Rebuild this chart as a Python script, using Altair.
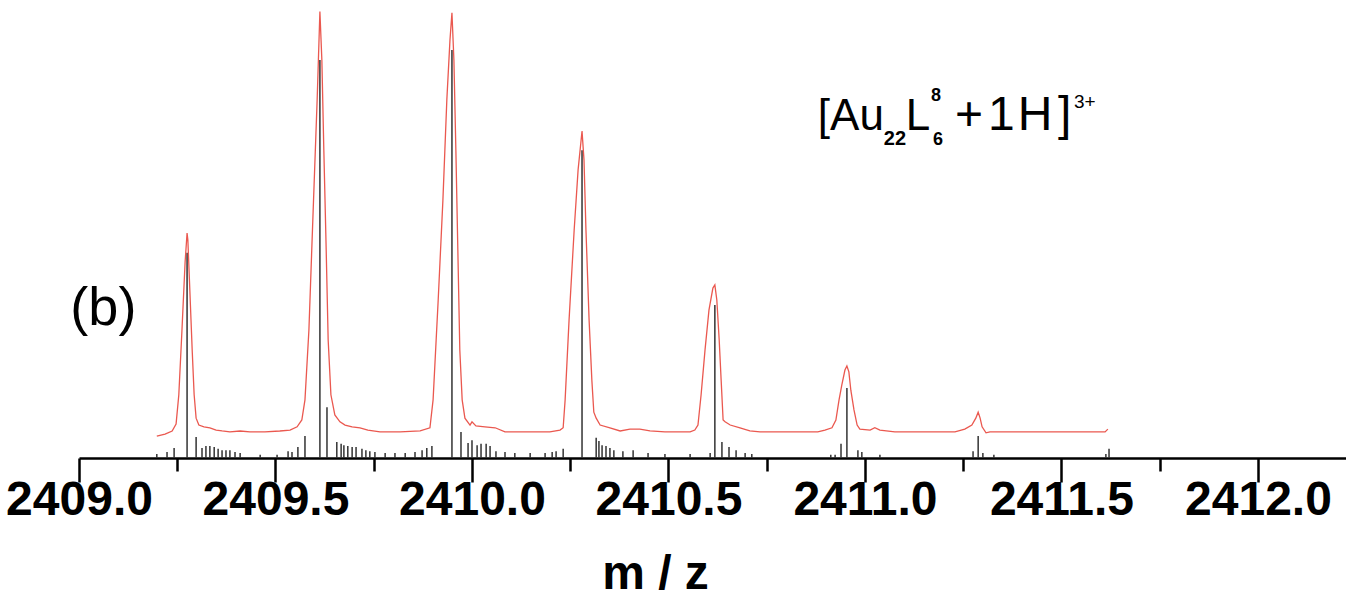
import altair as alt
import pandas as pd

# ---- measured profile (red) : m/z and relative intensity ----
red_mz = [2409.198, 2409.219, 2409.237, 2409.247, 2409.254, 2409.262, 2409.270, 2409.275, 2409.277,
          2409.282, 2409.288, 2409.293, 2409.298, 2409.305, 2409.318, 2409.333, 2409.349, 2409.364,
          2409.384, 2409.410, 2409.435, 2409.473, 2409.511, 2409.537, 2409.555, 2409.567, 2409.575,
          2409.585, 2409.595, 2409.606, 2409.613, 2409.618, 2409.623, 2409.629, 2409.634, 2409.641,
          2409.651, 2409.664, 2409.677, 2409.695, 2409.715, 2409.735, 2409.766, 2409.817, 2409.868,
          2409.893, 2409.901, 2409.914, 2409.926, 2409.936, 2409.944, 2409.949, 2409.954, 2409.959,
          2409.964, 2409.969, 2409.975, 2409.982, 2409.995, 2410.000, 2410.010, 2410.033, 2410.059,
          2410.084, 2410.122, 2410.198, 2410.224, 2410.232, 2410.237, 2410.247, 2410.260, 2410.270,
          2410.280, 2410.285, 2410.290, 2410.298, 2410.305, 2410.310, 2410.316, 2410.326, 2410.351,
          2410.377, 2410.402, 2410.427, 2410.453, 2410.491, 2410.555, 2410.567, 2410.575, 2410.583,
          2410.593, 2410.603, 2410.613, 2410.618, 2410.623, 2410.629, 2410.634, 2410.639, 2410.644,
          2410.657, 2410.682, 2410.707, 2410.733, 2410.835, 2410.880, 2410.898, 2410.916, 2410.926,
          2410.934, 2410.941, 2410.949, 2410.954, 2410.959, 2410.964, 2410.972, 2410.980, 2410.987,
          2411.013, 2411.025, 2411.038, 2411.076, 2411.229, 2411.254, 2411.272, 2411.282, 2411.288,
          2411.293, 2411.298, 2411.308, 2411.318, 2411.471, 2411.611, 2411.618]
red_int = [4.8, 5.2, 5.9, 7.4, 13.8, 27.9, 42.8, 49.1, 47.6,
           36.7, 23.6, 13.8, 8.7, 7.2, 6.8, 6.6, 6.1, 5.9,
           5.7, 5.9, 5.7, 5.7, 5.9, 6.1, 6.8, 8.3, 12.7,
           27.9, 52.0, 78.2, 97.5, 86.9, 67.2, 45.4, 25.8, 13.8,
           9.4, 7.9, 7.2, 6.8, 6.6, 6.1, 5.7, 5.7, 5.9,
           6.6, 12.7, 34.5, 56.3, 78.2, 91.3, 97.2, 86.9, 67.2,
           45.4, 23.6, 12.7, 8.7, 7.2, 7.9, 7.0, 6.8, 6.6,
           5.7, 5.7, 5.7, 6.1, 6.6, 12.7, 30.1, 49.8, 62.9,
           71.4, 65.1, 49.8, 30.1, 17.0, 10.0, 8.7, 7.2, 6.6,
           5.9, 6.3, 6.3, 5.9, 5.7, 5.7, 6.1, 7.2, 13.8,
           23.6, 32.3, 37.1, 37.8, 34.5, 25.8, 17.0, 8.3, 7.9,
           7.2, 6.6, 5.9, 5.7, 5.7, 5.7, 6.1, 6.6, 8.3,
           12.7, 15.9, 19.2, 20.1, 18.8, 14.8, 10.5, 7.2, 6.3,
           6.1, 6.6, 6.1, 5.7, 5.7, 6.3, 7.2, 8.7, 10.0,
           8.7, 6.8, 5.5, 5.7, 5.7, 5.7, 6.3]

# ---- simulated isotope pattern (black sticks) ----
stick_mz = [2409.275, 2409.613, 2409.949, 2410.280, 2410.618, 2410.954, 2411.288,
            2409.198, 2409.224, 2409.242, 2409.298, 2409.313, 2409.323, 2409.333, 2409.344,
            2409.354, 2409.364, 2409.374, 2409.384, 2409.397, 2409.410, 2409.461, 2409.504,
            2409.532, 2409.542, 2409.557, 2409.575, 2409.631, 2409.656, 2409.667, 2409.674,
            2409.684, 2409.695, 2409.705, 2409.720, 2409.730, 2409.740, 2409.753, 2409.779,
            2409.804, 2409.830, 2409.855, 2409.873, 2409.885, 2409.898, 2409.972, 2409.990,
            2410.000, 2410.013, 2410.023, 2410.036, 2410.046, 2410.061, 2410.084, 2410.109,
            2410.148, 2410.186, 2410.204, 2410.214, 2410.232, 2410.316, 2410.323, 2410.331,
            2410.341, 2410.351, 2410.361, 2410.384, 2410.410, 2410.448, 2410.491, 2410.555,
            2410.606, 2410.636, 2410.654, 2410.672, 2410.695, 2410.712, 2410.913, 2410.924,
            2410.939, 2410.982, 2410.992, 2411.038, 2411.275, 2411.300, 2411.328, 2411.613,
            2411.621]
stick_int = [44.8, 86.9, 89.1, 67.2, 33.4, 15.3, 4.8,
             0.9, 1.3, 2.2, 4.6, 2.2, 2.6, 2.6, 2.4,
             2.0, 1.7, 1.7, 1.7, 1.3, 1.1, 0.7, 0.7,
             1.5, 1.3, 2.4, 4.8, 11.1, 3.5, 3.1, 2.8,
             2.6, 2.4, 2.4, 2.0, 1.7, 1.5, 1.3, 1.1,
             1.1, 1.1, 1.3, 1.7, 2.2, 2.6, 5.7, 3.3,
             3.9, 2.8, 3.1, 3.1, 2.6, 1.5, 1.3, 1.1,
             1.1, 1.1, 1.3, 1.5, 2.0, 4.4, 3.7, 2.8,
             2.6, 2.2, 1.7, 1.5, 1.7, 1.1, 0.9, 0.9,
             1.1, 3.5, 2.4, 1.7, 1.1, 0.9, 0.7, 0.7,
             3.1, 1.7, 1.3, 0.7, 1.5, 1.1, 0.7, 0.9,
             2.0]

tick_values = [2409.0, 2409.25, 2409.5, 2409.75, 2410.0, 2410.25, 2410.5, 2410.75,
               2411.0, 2411.25, 2411.5, 2411.75, 2412.0]

FONT = "Liberation Sans"
x_scale = alt.Scale(domain=[2409.0, 2412.224], nice=False, zero=False)
y_scale = alt.Scale(domain=[0, 100], nice=False, zero=True)

red_df = pd.DataFrame({"mz": red_mz, "inten": red_int})
stick_df = pd.DataFrame({"mz": stick_mz, "inten": stick_int})

x_axis = alt.Axis(
    values=tick_values,
    title="m / z",
    titleFont=FONT, titleFontSize=48, titleFontWeight="bold", titleColor="black",
    titlePadding=26, titleX=576, titleAnchor="start", titleAlign="center",
    labelFont=FONT, labelFontSize=48, labelFontWeight="bold", labelColor="black",
    labelExpr="datum.value % 0.5 === 0 ? format(datum.value, '.1f') : ''",
    labelPadding=-6, labelFlush=False, labelOverlap=False,
    domainColor="black", domainWidth=2.5,
    tickColor="black", tickWidth=2.5,
    tickSize={"condition": {"test": "datum.value % 0.5 === 0", "value": 24}, "value": 13},
    grid=False,
)

sticks = alt.Chart(stick_df).mark_rule(color="#333333", strokeWidth=1.5).encode(
    x=alt.X("mz:Q", scale=x_scale, axis=x_axis),
    y=alt.Y("inten:Q", scale=y_scale, axis=None),
    y2=alt.datum(0),
)

red = alt.Chart(red_df).mark_line(color="#e8463c", strokeWidth=1.3, opacity=0.9).encode(
    x=alt.X("mz:Q", scale=x_scale),
    y=alt.Y("inten:Q", scale=y_scale),
    order=alt.Order("mz:Q"),
)

def label(txt, mz, inten, size, weight="normal", align="left", baseline="alphabetic"):
    df = pd.DataFrame({"t": [txt], "mz": [mz], "inten": [inten]})
    return alt.Chart(df).mark_text(
        font=FONT, fontSize=size, fontWeight=weight, color="black",
        align=align, baseline=baseline,
    ).encode(x=alt.X("mz:Q", scale=x_scale), y=alt.Y("inten:Q", scale=y_scale), text="t:N")

texts = [
    label("(b)", 2409.062, 32.5, 54, align="center", baseline="middle"),
    label("[Au", 2410.880, 71.6, 44),
    label("22", 2411.048, 68.3, 20, weight="bold"),
    label("L", 2411.104, 71.6, 44),
    label("8", 2411.168, 77.9, 18, weight="bold"),
    label("6", 2411.173, 68.3, 18, weight="bold"),
    label("+", 2411.229, 71.6, 48),
    label("1", 2411.313, 71.6, 48),
    label("H", 2411.389, 71.6, 48),
    label("]", 2411.491, 71.6, 48),
    label("3+", 2411.532, 76.4, 19),
]

chart = alt.layer(sticks, red, *texts).properties(
    width=1267, height=458,
    padding={"left": 79, "top": 0, "right": 0, "bottom": 153},
    autosize=alt.AutoSizeParams(type="none"),
    background="white",
).configure_view(stroke=None)

chart.save("out.html", embed_options={"renderer": "svg", "actions": False})
